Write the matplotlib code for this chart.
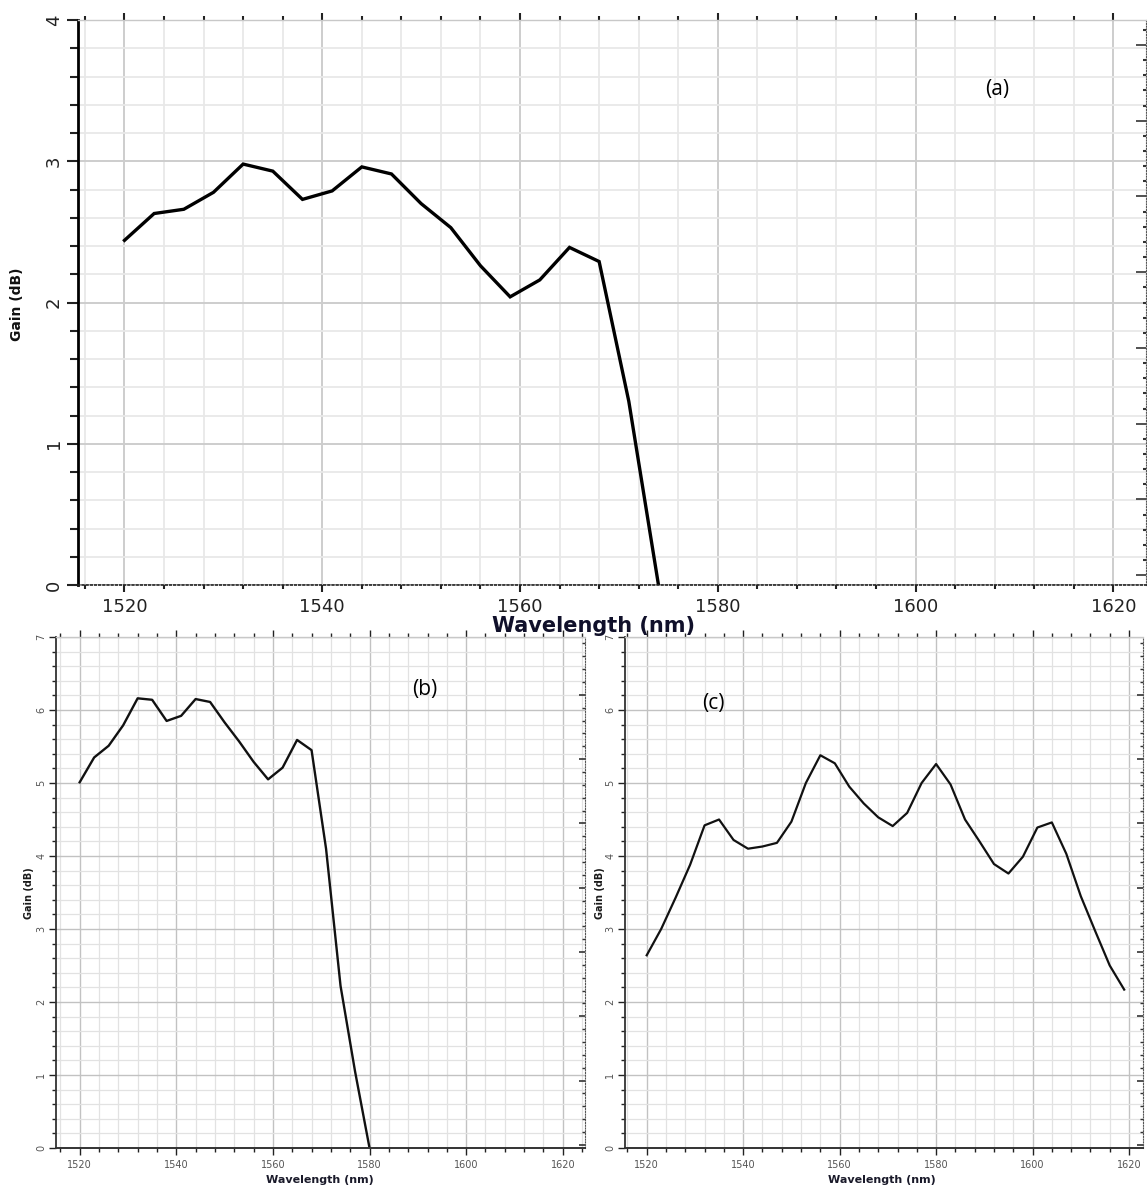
import matplotlib.pyplot as plt
from matplotlib.ticker import MultipleLocator, NullFormatter

# gain spectra (wavelength in nm, gain in dB)
wl_a = [1520, 1523, 1526, 1529, 1532, 1535, 1538, 1541, 1544, 1547,
        1550, 1553, 1556, 1559, 1562, 1565, 1568, 1571, 1574]
gain_a = [2.44, 2.63, 2.66, 2.78, 2.98, 2.93, 2.73, 2.79, 2.96, 2.91,
          2.70, 2.53, 2.26, 2.04, 2.16, 2.39, 2.29, 1.30, 0.00]

wl_b = [1520, 1523, 1526, 1529, 1532, 1535, 1538, 1541, 1544, 1547,
        1550, 1553, 1556, 1559, 1562, 1565, 1568, 1571, 1574, 1577, 1580]
gain_b = [5.01, 5.35, 5.51, 5.79, 6.16, 6.14, 5.85, 5.92, 6.15, 6.11,
          5.83, 5.57, 5.29, 5.05, 5.21, 5.59, 5.45, 4.10, 2.22, 1.05, 0.00]

wl_c = [1520, 1523, 1526, 1529, 1532, 1535, 1538, 1541, 1544, 1547,
        1550, 1553, 1556, 1559, 1562, 1565, 1568, 1571, 1574, 1577,
        1580, 1583, 1586, 1589, 1592, 1595, 1598, 1601, 1604, 1607,
        1610, 1613, 1616, 1619]
gain_c = [2.64, 3.00, 3.43, 3.88, 4.42, 4.50, 4.22, 4.10, 4.13, 4.18,
          4.47, 5.00, 5.38, 5.27, 4.95, 4.72, 4.53, 4.41, 4.59, 5.00,
          5.26, 4.98, 4.50, 4.20, 3.89, 3.76, 3.99, 4.39, 4.46, 4.03,
          3.45, 2.97, 2.50, 2.17]

xticks = [1520, 1540, 1560, 1580, 1600, 1620]

W, H = 1147, 1186
fig = plt.figure(figsize=(W / 100, H / 100), dpi=100)


def box(x0, x1, y0, y1):
    # pixel box (left, right, top, bottom) -> figure fraction rect
    return [x0 / W, 1 - y1 / H, (x1 - x0) / W, (y1 - y0) / H]


def setup(ax, xlim, ymax, big):
    ax.set_xlim(*xlim)
    ax.set_ylim(0, ymax)
    ax.set_xticks(xticks)
    ax.xaxis.set_minor_locator(MultipleLocator(4))
    ax.yaxis.set_major_locator(MultipleLocator(1))
    ax.yaxis.set_minor_locator(MultipleLocator(0.2))
    ax.set_axisbelow(True)
    if big:
        ax.grid(which='major', color='#cdcdcd', lw=1.4)
        ax.grid(which='minor', color='#e8e8e8', lw=1.3)
    else:
        ax.grid(which='major', color='#c2c2c2', lw=1.0)
        ax.grid(which='minor', color='#e2e2e2', lw=0.9)

    ax.spines['left'].set_color('black' if big else '#333333')
    ax.spines['left'].set_linewidth(2.0 if big else 1.3)
    ax.spines['top'].set_color('#c8c8c8')
    ax.spines['top'].set_linewidth(1.0)
    ax.spines['right'].set_linestyle((0, (1, 1.5)))
    ax.spines['right'].set_color('#555555')
    ax.spines['right'].set_linewidth(0.8)
    if big:
        ax.spines['bottom'].set_linestyle((0, (1, 1.5)))
        ax.spines['bottom'].set_color('#222222')
        ax.spines['bottom'].set_linewidth(1.2)
    else:
        ax.spines['bottom'].set_color('#333333')
        ax.spines['bottom'].set_linewidth(1.4)

    fs = 13 if big else 7
    tc = '#222222' if big else '#555555'
    ax.tick_params(axis='y', which='major', direction='out',
                   length=8 if big else 5, width=1.5 if big else 1.0,
                   labelsize=fs, labelrotation=90, pad=3 if big else 2,
                   color='#222222', labelcolor=tc)
    ax.tick_params(axis='y', which='minor', direction='out',
                   length=6 if big else 3, width=1.5 if big else 1.0,
                   color='#222222')
    ax.tick_params(axis='x', which='both', direction='out', top=True,
                   length=3, width=1.5 if big else 1.0, color='#222222',
                   labelsize=fs, labelcolor=tc, pad=4 if big else 4)
    ax.tick_params(axis='x', which='major', length=5)
    for lab in ax.get_yticklabels():
        lab.set_va('center')

    # secondary scale on the right edge, ticks only
    tw = ax.twinx()
    if big:
        tw.set_ylim(-0.13, 7.33)
    else:
        tw.set_ylim(-0.05, 7.9)
    tw.yaxis.set_major_locator(MultipleLocator(1))
    tw.yaxis.set_minor_locator(MultipleLocator(0.2))
    tw.yaxis.set_major_formatter(NullFormatter())
    tw.tick_params(axis='y', which='major', direction='in', length=7 if big else 4,
                   width=1.2, color='#333333')
    tw.tick_params(axis='y', which='minor', direction='in', length=2,
                   width=1.5 if big else 1.0, color='#333333')
    for s in tw.spines.values():
        s.set_visible(False)
    return ax


# (a)
ax_a = fig.add_axes(box(78, 1146, 20, 585))
setup(ax_a, (1515.3, 1623.3), 4, True)
ax_a.plot(wl_a, gain_a, color='black', lw=2.4, solid_joinstyle='miter')

# (b)
ax_b = fig.add_axes(box(56, 585, 637, 1148))
setup(ax_b, (1515.1, 1624.6), 7, False)
ax_b.plot(wl_b, gain_b, color='#111111', lw=1.7)

# (c)
ax_c = fig.add_axes(box(625, 1143, 637, 1148))
setup(ax_c, (1515.5, 1622.9), 7, False)
ax_c.plot(wl_c, gain_c, color='#111111', lw=1.6)

# axis titles
fig.text(593 / W, 1 - 626 / H, 'Wavelength (nm)', ha='center', va='center',
         fontsize=15, fontweight='bold', color='#10102a')
fig.text(17 / W, 1 - 304 / H, 'Gain (dB)', ha='center', va='center',
         rotation=90, fontsize=10, fontweight='bold', color='#111111')
for xc in (320, 882):
    fig.text(xc / W, 1 - 1180 / H, 'Wavelength (nm)', ha='center', va='center',
             fontsize=8, fontweight='bold', color='#1a1a2a')
for xc in (29, 600):
    fig.text(xc / W, 1 - 893 / H, 'Gain (dB)', ha='center', va='center',
             rotation=90, fontsize=7, fontweight='bold', color='#1a1a1a')

# panel tags
for tag, xc, yc in (('(a)', 997, 89), ('(b)', 425, 690), ('(c)', 713, 704)):
    fig.text(xc / W, 1 - yc / H, tag, ha='center', va='center',
             fontsize=15, family='Open Sans', color='black')

fig.savefig('out.png', dpi=100)
